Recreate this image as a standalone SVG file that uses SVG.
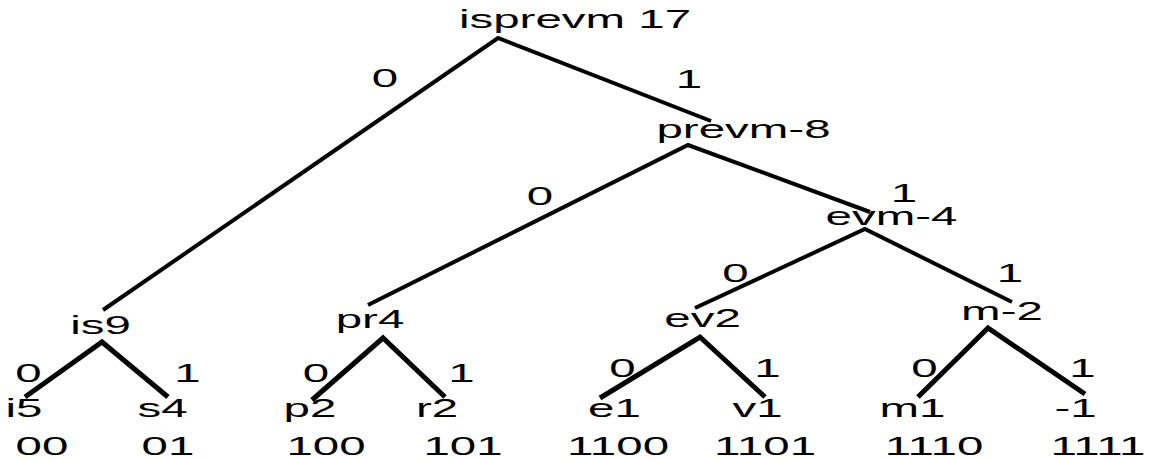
<svg xmlns="http://www.w3.org/2000/svg" width="1150" height="461" viewBox="0 0 1150 461">
<style>
text{font-family:"Liberation Sans",Arial,sans-serif;font-size:25px;fill:#000;text-anchor:middle}
.e{stroke:#000;stroke-width:4;stroke-linecap:butt;fill:none}
.l{stroke-width:5}
</style>
<rect width="1150" height="461" fill="#fff"/>
<g id="connectors">
<path class="e" d="M103,310L498,38L711,121"/>
<path class="e" d="M368,305L688,145L870,212"/>
<path class="e" d="M695,308L865,229L1012,302"/>
<path class="e l" d="M25,397L102,342L168,397"/>
<path class="e l" d="M312,400L383,338L445,397"/>
<path class="e l" d="M600,398L700,337L765,397"/>
<path class="e l" d="M918,397L988,328L1085,394"/>
</g>
<g id="edge-labels">
<text transform="translate(385,87) scale(1.9,1)">0</text>
<text transform="translate(689,88) scale(1.9,1)">1</text>
<text transform="translate(540,205) scale(1.9,1)">0</text>
<text transform="translate(904,202) scale(1.9,1)">1</text>
<text transform="translate(735.5,282) scale(1.9,1)">0</text>
<text transform="translate(1010,282) scale(1.9,1)">1</text>
<text transform="translate(28.5,382) scale(1.9,1)">0</text>
<text transform="translate(187.5,382) scale(1.9,1)">1</text>
<text transform="translate(316,382) scale(1.9,1)">0</text>
<text transform="translate(461.5,382) scale(1.9,1)">1</text>
<text transform="translate(622.5,377) scale(1.9,1)">0</text>
<text transform="translate(767.5,377) scale(1.9,1)">1</text>
<text transform="translate(924.5,377) scale(1.9,1)">0</text>
<text transform="translate(1082.5,377) scale(1.9,1)">1</text>
</g>
<g id="n-isprevm"><text transform="translate(575,28) scale(1.9,1)">isprevm 17</text></g>
<g id="n-prevm"><text transform="translate(743.5,138) scale(1.9,1)">prevm-8</text></g>
<g id="n-evm"><text transform="translate(891.5,225) scale(1.9,1)">evm-4</text></g>
<g id="n-is"><text transform="translate(100.5,334) scale(1.9,1)">is9</text></g>
<g id="n-pr"><text transform="translate(370,328) scale(1.9,1)">pr4</text></g>
<g id="n-ev"><text transform="translate(702.5,327) scale(1.9,1)">ev2</text></g>
<g id="n-m"><text transform="translate(1002,320) scale(1.9,1)">m-2</text></g>
<g id="n-i"><text transform="translate(24,417) scale(1.9,1)">i5</text><text transform="translate(42,455) scale(1.9,1)">00</text></g>
<g id="n-s"><text transform="translate(162.5,417) scale(1.9,1)">s4</text><text transform="translate(168,455) scale(1.9,1)">01</text></g>
<g id="n-p"><text transform="translate(310,417) scale(1.9,1)">p2</text><text transform="translate(326,455) scale(1.9,1)">100</text></g>
<g id="n-r"><text transform="translate(437,417) scale(1.9,1)">r2</text><text transform="translate(463,455) scale(1.9,1)">101</text></g>
<g id="n-e"><text transform="translate(614.5,417) scale(1.9,1)">e1</text><text transform="translate(618,455) scale(1.9,1)">1100</text></g>
<g id="n-v"><text transform="translate(757.5,417) scale(1.9,1)">v1</text><text transform="translate(765,455) scale(1.9,1)">1101</text></g>
<g id="n-m1"><text transform="translate(912.5,417) scale(1.9,1)">m1</text><text transform="translate(934,455) scale(1.9,1)">1110</text></g>
<g id="n-neg"><text transform="translate(1075.5,417) scale(1.9,1)">-1</text><text transform="translate(1098,455) scale(1.9,1)">1111</text></g>
</svg>
